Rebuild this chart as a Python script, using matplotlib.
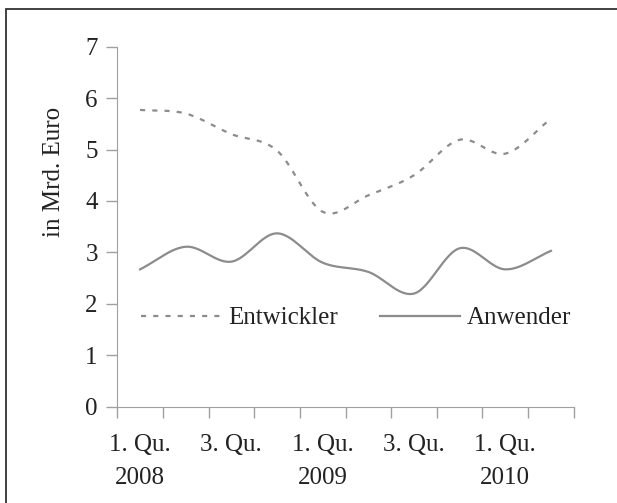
import matplotlib.pyplot as plt
import numpy as np
from matplotlib.patches import Rectangle

quartale = ["1. Qu.\n2008", "2. Qu.\n2008", "3. Qu.\n2008", "4. Qu.\n2008",
            "1. Qu.\n2009", "2. Qu.\n2009", "3. Qu.\n2009", "4. Qu.\n2009",
            "1. Qu.\n2010", "2. Qu.\n2010"]
entwickler = [5.77, 5.70, 5.30, 4.98, 3.79, 4.11, 4.50, 5.19, 4.92, 5.60]
anwender = [2.67, 3.11, 2.82, 3.37, 2.80, 2.62, 2.20, 3.08, 2.67, 3.03]
x_labels = ["1. Qu.\n2008", "3. Qu.", "1. Qu.\n2009", "3. Qu.", "1. Qu.\n2010"]

plt.rcParams['font.family'] = ['Liberation Serif', 'DejaVu Serif']
grau = "#8c8c8c"
text = "#222222"
fs = 18


# Excel-artige Glaettung (Catmull-Rom)
def glatt(y, n=30):
    y = np.asarray(y, float)
    x = np.arange(len(y), dtype=float)
    p = np.concatenate([[2 * y[0] - y[1]], y, [2 * y[-1] - y[-2]]])
    xs, ys = [], []
    for i in range(len(y) - 1):
        p0, p1, p2, p3 = p[i], p[i + 1], p[i + 2], p[i + 3]
        t = np.linspace(0, 1, n, endpoint=(i == len(y) - 2))
        yy = 0.5 * (2 * p1 + (-p0 + p2) * t + (2 * p0 - 5 * p1 + 4 * p2 - p3) * t ** 2
                    + (-p0 + 3 * p1 - 3 * p2 + p3) * t ** 3)
        xs.append(x[i] + t)
        ys.append(yy)
    return np.concatenate(xs), np.concatenate(ys)


fig = plt.figure(figsize=(6.17, 5.03), dpi=100)
ax = fig.add_axes([0.190, 0.1915, 0.740, 0.7157])

xe, ye = glatt(entwickler)
xa, ya = glatt(anwender)
ax.plot(xe, ye, color=grau, lw=1.6, dashes=(2.3, 3.2), label="Entwickler")
ax.plot(xa, ya, color=grau, lw=1.6, label="Anwender")

ax.set_xlim(-0.5, len(quartale) - 0.5)
ax.set_ylim(0, 7)
ax.set_yticks(range(8))
ax.set_xticks(np.arange(-0.5, len(quartale), 1.0))
ax.set_xticklabels([])
ax.set_xticks(np.arange(0, len(quartale), 2), minor=True)
ax.set_xticklabels(x_labels, minor=True, fontsize=fs, color=text, linespacing=1.6,
                   va="top")
ax.tick_params(axis="x", which="minor", length=0, pad=20)
ax.tick_params(axis="both", which="major", length=8, color="#a0a0a0", width=1,
               labelsize=fs, labelcolor=text)
ax.tick_params(axis="y", pad=6)

for s in ["top", "right"]:
    ax.spines[s].set_visible(False)
for s in ["left", "bottom"]:
    ax.spines[s].set_color("#a0a0a0")

ax.set_ylabel("in Mrd. Euro", fontsize=fs, color=text)
ax.yaxis.set_label_coords(-0.115, 0.653)

ax.legend(loc="center", bbox_to_anchor=(0.524, 0.246), ncol=2, frameon=False,
          fontsize=fs, handlelength=3.2, handletextpad=0.27, columnspacing=1.7,
          labelcolor=text)

fig.patches.append(Rectangle((6 / 617, -0.1), 2, 1 - 9 / 503 + 0.1,
                             transform=fig.transFigure, fill=False,
                             edgecolor="#333333", lw=1.3))

fig.savefig("out.png", dpi=100)
